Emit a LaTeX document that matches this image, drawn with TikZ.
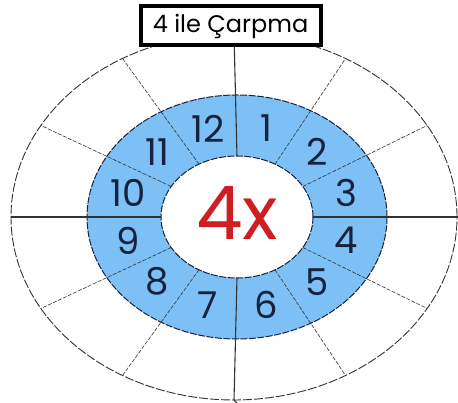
\documentclass[tikz,border=0pt]{standalone}
\usepackage{fontspec}
\setmainfont{Poppins}
\usetikzlibrary{calc}
\definecolor{ring-blue}{RGB}{124,192,245}
\definecolor{digit-navy}{RGB}{22,34,62}
\definecolor{mark-red}{RGB}{206,30,34}
\definecolor{line-gray}{RGB}{50,50,50}

\tikzset{
  cutline/.style={line-gray, line width=0.6pt, dash pattern=on 4pt off 1.5pt},
  axisline/.style={line-gray, line width=1.1pt},
  edgeline/.style={digit-navy, line width=1pt, dash pattern=on 7pt off 1.5pt},
  digit/.style={digit-navy, font=\fontsize{37}{37}\selectfont, inner sep=0pt}
}

\begin{document}
\begin{tikzpicture}[x=1pt, y=1pt]
  \useasboundingbox (0,0) rectangle (458,403);
  % Dis elips
  \draw[line-gray, line width=0.9pt, dash pattern=on 9pt off 2pt]
    (234,186) ellipse[x radius=223, y radius=183];
  % Mavi halka
  \fill[ring-blue, even odd rule]
    (237,186) ellipse[x radius=150, y radius=122]
    (237,186) ellipse[x radius=76, y radius=61];
  \draw[edgeline] (237,186) ellipse[x radius=150, y radius=122];
  \draw[edgeline] (237,186) ellipse[x radius=76, y radius=61];

  % Kesim noktalari
  \foreach \ang in {0,30,...,330}{
    \coordinate (in\ang) at ({237+76*cos(\ang)},{186+61*sin(\ang)});
    \coordinate (out\ang) at ({234+223*cos(\ang)},{186+183*sin(\ang)});
  }
  % Kesikli bolmeler
  \foreach \ang in {30,60,120,150,210,240,300,330}{
    \draw[cutline] (in\ang) -- (out\ang);
  }
  % Eksenler
  \foreach \ang in {0,90,180,270}{
    \draw[axisline] (in\ang) -- (out\ang);
  }
  \draw[axisline] (out270) -- (237,0);
  \draw[axisline] (out0) -- (458,186);

  % Sayilar
  \foreach \k in {1,...,12}{
    \pgfmathsetmacro{\mid}{105-30*\k}
    \node[digit] (n\k) at ({237+113*cos(\mid)},{186+91.5*sin(\mid)}) {\k};
  }

  % Orta
  \node[mark-red, font=\fontsize{74}{74}\selectfont, inner sep=0pt]
    (times) at (237,190) {4x};

  % Baslik
  \node[draw=black, line width=4pt, fill=white, minimum width=180pt,
        minimum height=39pt, inner sep=0pt,
        font=\fontsize{24}{24}\selectfont] (title) at (230.5,377) {4 ile Çarpma};
\end{tikzpicture}
\end{document}
